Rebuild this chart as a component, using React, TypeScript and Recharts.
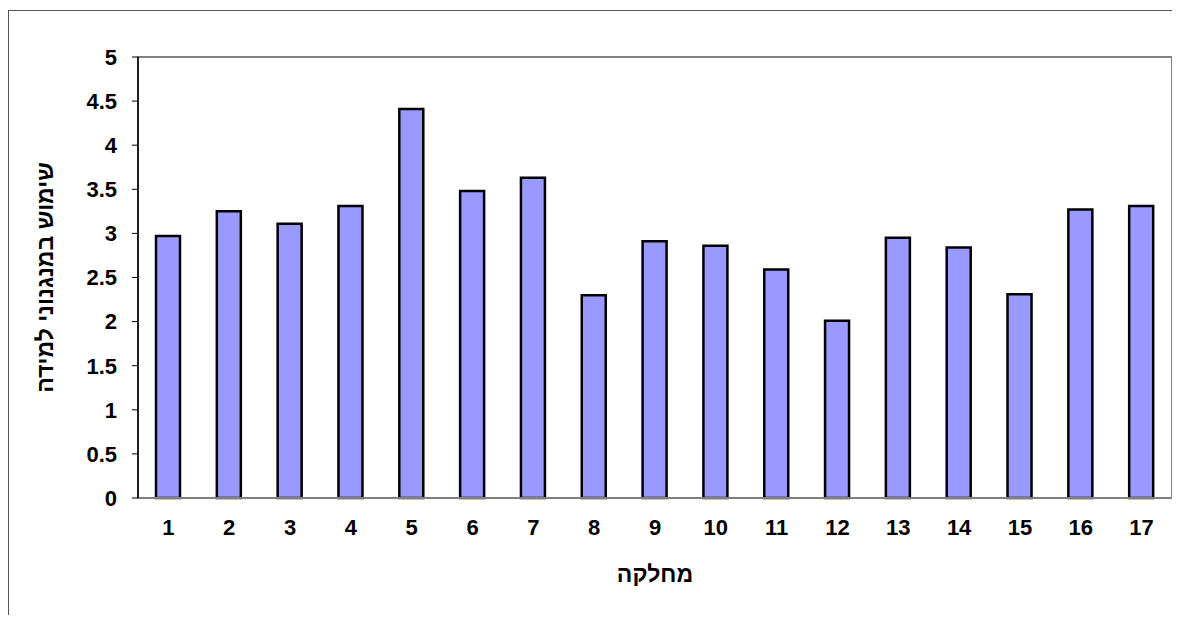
import { Bar, BarChart, ReferenceArea, XAxis, YAxis } from "recharts";

const departments = ["1", "2", "3", "4", "5", "6", "7", "8", "9", "10", "11", "12", "13", "14", "15", "16", "17"];
const usage = [2.97, 3.25, 3.11, 3.31, 4.41, 3.48, 3.63, 2.3, 2.91, 2.86, 2.59, 2.01, 2.95, 2.84, 2.31, 3.27, 3.31];
const yTicks = [0, 0.5, 1, 1.5, 2, 2.5, 3, 3.5, 4, 4.5, 5];

const data = departments.map((d, i) => ({ dept: d, value: usage[i] }));

const font = "'Liberation Sans', Arial, sans-serif";
const titleStyle = { fontSize: 23, fontWeight: 700, fill: "#000", fontFamily: font };

const XTick = ({ x, y, payload }: any) => (
  <text x={x} y={y} dy="0.71em" textAnchor="middle" fontSize={22} fontWeight={700} fontFamily={font} fill="#000">
    {payload.value}
  </text>
);

const YTick = ({ x, y, payload }: any) => (
  <text x={x} y={y} dy="0.355em" textAnchor="end" fontSize={22} fontWeight={700} fontFamily={font} fill="#000">
    {payload.value}
  </text>
);

export default function App() {
  return (
    <div style={{ paddingTop: 2 }}>
      <div
        style={{
          boxSizing: "border-box",
          width: 1172,
          height: 605,
          borderTop: "1px solid #555",
          borderLeft: "1px solid #555",
          fontFamily: font,
        }}
      >
        <BarChart
          width={1171}
          height={604}
          data={data}
          margin={{ top: 46, right: 8, left: 0, bottom: 0 }}
        >
          <ReferenceArea
            y1={0}
            y2={5}
            fill="none"
            stroke="#808080"
            strokeWidth={2}
            ifOverflow="visible"
          />
          <XAxis
            dataKey="dept"
            height={117}
            tickLine={false}
            tickSize={0}
            tickMargin={21}
            axisLine={{ stroke: "#808080", strokeWidth: 2 }}
            tick={<XTick />}
            label={{
              value: "מחלקה",
              position: "insideBottom",
              offset: 33,
              style: titleStyle,
            }}
          />
          <YAxis
            width={129}
            domain={[0, 5]}
            ticks={yTicks}
            interval={0}
            tickSize={6}
            tickMargin={15}
            axisLine={{ stroke: "#000", strokeWidth: 1.5 }}
            tickLine={{ stroke: "#000" }}
            tick={<YTick />}
            label={{
              value: "שימוש במנגנוני למידה",
              angle: -90,
              position: "insideLeft",
              offset: 36,
              style: { ...titleStyle, textAnchor: "middle" },
            }}
          />
          <Bar
            dataKey="value"
            fill="#9999FF"
            stroke="#000"
            strokeWidth={2.5}
            barSize={24}
            isAnimationActive={false}
          />
        </BarChart>
      </div>
    </div>
  );
}
